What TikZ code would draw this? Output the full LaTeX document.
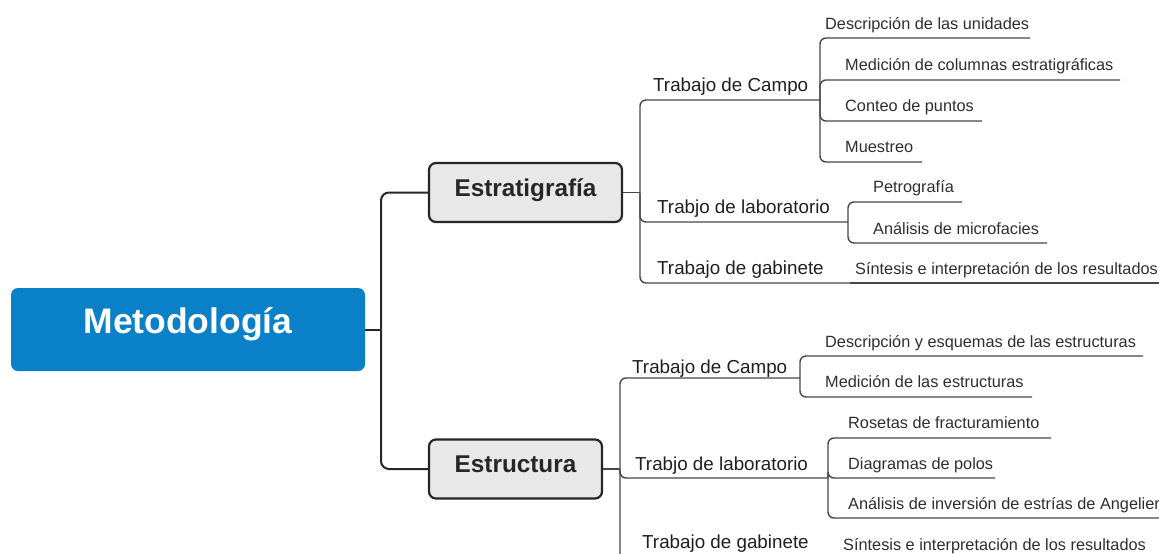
\documentclass[tikz,border=0pt]{standalone}
\usepackage{fontspec}
\setmainfont{Liberation Sans}
\usetikzlibrary{positioning}
\definecolor{azulmeta}{RGB}{9,128,199}
\definecolor{grisbox}{RGB}{232,232,232}
\definecolor{oscuro}{RGB}{38,38,38}
\tikzset{
    %Define style for the central box
    raiz/.style={
           rectangle,
           rounded corners=7pt,
           fill=azulmeta,
           text=white,
           font=\fontsize{35.5}{40}\selectfont\bfseries,
           minimum width=354pt,
           minimum height=83pt,
           text height=0.716em, text depth=0pt,
           inner sep=0pt},
    %Define style for the two main topics
    tema/.style={
           rectangle,
           rounded corners=7pt,
           draw=oscuro, line width=2.2pt,
           fill=grisbox,
           text=oscuro,
           font=\fontsize{24.3}{28}\selectfont\bfseries,
           minimum height=59pt,
           text height=0.716em, text depth=0pt,
           inner sep=0pt},
    %Define style for the labels
    subtema/.style={
           anchor=base west,
           inner sep=0pt,
           text=black!88,
           font=\fontsize{18.8}{22}\selectfont},
    hoja/.style={
           anchor=base west,
           inner sep=0pt,
           text=black!82,
           font=\fontsize{16.3}{19}\selectfont},
    % Define line styles
    rama/.style={
           draw=oscuro,
           line width=2pt,
           rounded corners=8pt},
    enlace/.style={
           draw=black!72,
           line width=1.4pt,
           rounded corners=6pt}
}
\begin{document}
\begin{tikzpicture}[x=1pt,y=-1pt]
\useasboundingbox (0,0) rectangle (1159,554);
\clip (0,0) rectangle (1159,554);
 %main boxes
\node[raiz] (meto) at (188,329.5) {Metodología};
\node[tema, minimum width=193pt] (estrat) at (525.5,192.5) {Estratigrafía};
\node[tema, minimum width=173pt] (estruc) at (515.5,469) {Estructura};
\coordinate (j0) at (381,329.5);
\draw[rama] (meto.east) -- (j0);
\draw[rama] (j0) |- (estrat.west);
\draw[rama] (j0) |- (estruc.west);
 %Estratigrafia branch
\coordinate (j1) at (640,192.5);
\draw[enlace] (estrat.east) -- (j1);
\node[subtema] (campo1) at (653,91) {Trabajo de Campo};
\node[subtema] (lab1) at (657,213) {Trabjo de laboratorio};
\node[subtema] (gab1) at (657,274) {Trabajo de gabinete};
\coordinate (k1) at (820,100);
\coordinate (k2) at (848,222);
\coordinate (k3) at (850,283);
\draw[enlace] (j1) |- (k1);
\draw[enlace] (j1) |- (k2);
\draw[enlace] (j1) |- (k3);
\node[hoja] (desc1) at (825,29) {Descripción de las unidades};
\node[hoja] (med1) at (845,70) {Medición de columnas estratigráficas};
\node[hoja] (cont1) at (845,111) {Conteo de puntos};
\node[hoja] (mues1) at (845,152) {Muestreo};
\coordinate (desc1-e) at (1030,38);
\coordinate (med1-e) at (1120,80);
\coordinate (cont1-e) at (982,121);
\coordinate (mues1-e) at (922,162);
\draw[enlace] (k1) |- (desc1-e);
\draw[enlace] (k1) |- (med1-e);
\draw[enlace] (k1) |- (cont1-e);
\draw[enlace] (k1) |- (mues1-e);
\node[hoja] (petro1) at (873,192) {Petrografía};
\node[hoja] (micro1) at (873,234) {Análisis de microfacies};
\coordinate (petro1-e) at (962,202);
\coordinate (micro1-e) at (1047,243);
\draw[enlace] (k2) |- (petro1-e);
\draw[enlace] (k2) |- (micro1-e);
\node[hoja] (sint1) at (855,274) {Síntesis e interpretación de los resultados};
\coordinate (sint1-e) at (1162,283);
\draw[enlace] (k3) -- (sint1-e);
 %Estructura branch
\coordinate (j2) at (620,469);
\draw[enlace] (estruc.east) -- (j2);
\node[subtema] (campo2) at (632,373) {Trabajo de Campo};
\node[subtema] (lab2) at (635,470) {Trabjo de laboratorio};
\node[subtema] (gab2) at (642,548) {Trabajo de gabinete};
\coordinate (k4) at (800,378);
\coordinate (k5) at (828,478);
\coordinate (k6) at (832,566);
\draw[enlace] (j2) |- (k4);
\draw[enlace] (j2) |- (k5);
\draw[enlace] (j2) |- (k6);
\node[hoja] (desc2) at (825,347) {Descripción y esquemas de las estructuras};
\node[hoja] (med2) at (825,387) {Medición de las estructuras};
\coordinate (desc2-e) at (1143,356);
\coordinate (med2-e) at (1032,397);
\draw[enlace] (k4) |- (desc2-e);
\draw[enlace] (k4) |- (med2-e);
\node[hoja] (ros2) at (848,428) {Rosetas de fracturamiento};
\node[hoja] (diag2) at (848,469) {Diagramas de polos};
\node[hoja] (inv2) at (848,509) {Análisis de inversión de estrías de Angelier};
\coordinate (ros2-e) at (1051,438);
\coordinate (diag2-e) at (995,478);
\coordinate (inv2-e) at (1162,518);
\draw[enlace] (k5) |- (ros2-e);
\draw[enlace] (k5) |- (diag2-e);
\draw[enlace] (k5) |- (inv2-e);
\node[hoja] (sint2) at (843,550) {Síntesis e interpretación de los resultados};
\end{tikzpicture}
\end{document}
